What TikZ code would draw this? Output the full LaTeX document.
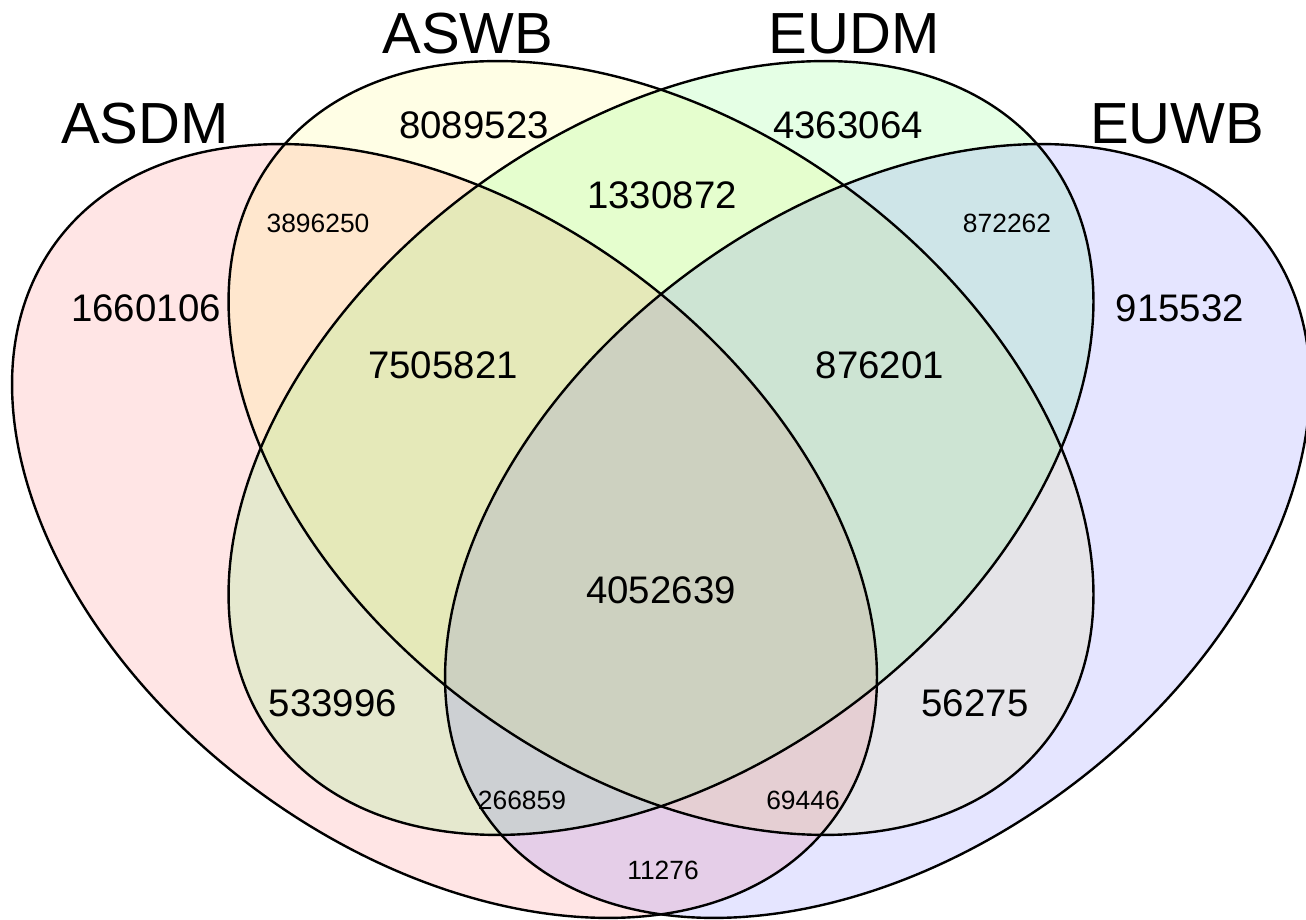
\documentclass[tikz,border=0pt]{standalone}
\usepackage{fontspec}
\setmainfont{Liberation Sans}
\usepackage{tikz}

\begin{document}
\begin{tikzpicture}[x=0.5pt, y=0.5pt,
        setname/.style={font={\fontsize{29}{34}\selectfont}},
        bignum/.style={font={\fontsize{19.2}{23}\selectfont}},
        smallnum/.style={font={\fontsize{13.2}{16}\selectfont}},
        vennfill/.style={fill opacity=0.1},
        vennline/.style={line width=1.2pt, black}]
          \useasboundingbox (0,0) rectangle (1306,920);

          %fill the four sets
          \fill[red, vennfill, rotate around={-36.8:(444.5,389)}] (444.5,389) ellipse [x radius=484, y radius=320];
          \fill[yellow, vennfill, rotate around={-36.8:(661,472)}] (661,472) ellipse [x radius=484, y radius=320];
          \fill[green, vennfill, rotate around={36.8:(661,472)}] (661,472) ellipse [x radius=484, y radius=320];
          \fill[blue, vennfill, rotate around={36.8:(877.5,389)}] (877.5,389) ellipse [x radius=484, y radius=320];

          %outlines
          \foreach \cx/\cy/\ang in {444.5/389/-36.8, 661/472/-36.8, 661/472/36.8, 877.5/389/36.8}
            \draw[vennline, rotate around={\ang:(\cx,\cy)}] (\cx,\cy) ellipse [x radius=484, y radius=320];

          %set names
          \node[setname] (asdm) at (145,796) {ASDM};
          \node[setname] (aswb) at (468,886) {ASWB};
          \node[setname] (eudm) at (854,886) {EUDM};
          \node[setname] (euwb) at (1177,796) {EUWB};

          %region counts
          \node[bignum] (aswbonly) at (474,795) {8089523};
          \node[bignum] (eudmonly) at (848,795) {4363064};
          \node[bignum] (aswbeudm) at (662,725) {1330872};
          \node[smallnum] (asdmaswb) at (318,697) {3896250};
          \node[smallnum] (eudmeuwb) at (1007,697) {872262};
          \node[bignum] (asdmonly) at (146,612) {1660106};
          \node[bignum] (euwbonly) at (1180,612) {915532};
          \node[bignum] (threeleft) at (443,555) {7505821};
          \node[bignum] (threeright) at (880,555) {876201};
          \node[bignum] (allfour) at (661,330) {4052639};
          \node[bignum] (asdmeudm) at (333,217) {533996};
          \node[bignum] (aswbeuwb) at (975,217) {56275};
          \node[smallnum] (lowleft) at (522,120) {266859};
          \node[smallnum] (lowright) at (803,120) {69446};
          \node[smallnum] (asdmeuwb) at (663,50) {11276};
\end{tikzpicture}
\end{document}
